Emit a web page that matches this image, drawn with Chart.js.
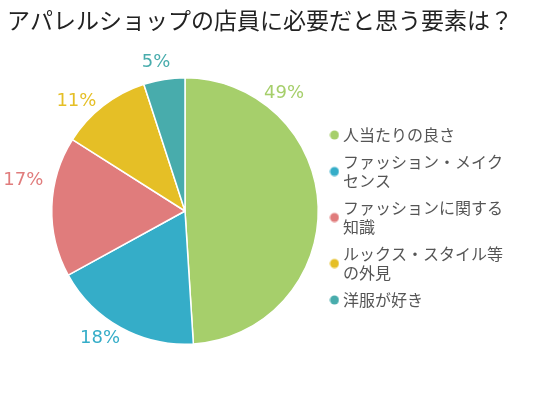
<!DOCTYPE html>
<html>
<head>
<meta charset="utf-8">
<script src="https://cdn.jsdelivr.net/npm/chart.js@4.4.0/dist/chart.umd.min.js"></script>
<style>
html, body { margin: 0; padding: 0; background: #fff; }
.chart-box { width: 540px; height: 400px; position: relative; }
</style>
</head>
<body>
<div class="chart-box"><canvas id="myChart"></canvas></div>
<script>
const titleText = 'アパレルショップの店員に必要だと思う要素は？';
const categories = [
    ['人当たりの良さ'],
    ['ファッション・メイク', 'センス'],
    ['ファッションに関する', '知識'],
    ['ルックス・スタイル等', 'の外見'],
    ['洋服が好き']
];
const values = [49, 18, 17, 11, 5];
const sliceColors = ['#a6cf6b', '#35adc8', '#e07c7c', '#e5bf26', '#48acac'];

const jpFont = '"Noto Sans CJK JP", "Noto Sans", sans-serif';
const legendLineHeight = 19;

// title is drawn by hand so it can sit at the far left while the pie is padded in
const titleDraw = {
    id: 'titleDraw',
    afterDraw(chart) {
        const ctx = chart.ctx;
        ctx.save();
        ctx.font = '23px ' + jpFont;
        ctx.fillStyle = '#222';
        ctx.textAlign = 'left';
        ctx.textBaseline = 'middle';
        ctx.fillText(titleText, 7, 20);
        ctx.restore();
    }
};

// percent labels outside each slice, same colour as the slice
// the original chart pushes some labels off the slice middle, so nudge them a bit (degrees)
const angleNudge = [-48, 5, 9, -7, -2];
const pctLabels = {
    id: 'pctLabels',
    afterDatasetsDraw(chart) {
        const ctx = chart.ctx;
        const meta = chart.getDatasetMeta(0);
        ctx.save();
        ctx.font = '18px "DejaVu Sans", ' + jpFont;
        ctx.textAlign = 'center';
        ctx.textBaseline = 'middle';
        meta.data.forEach((arc, i) => {
            const p = arc.getProps(['x', 'y', 'startAngle', 'endAngle', 'outerRadius'], true);
            const a = (p.startAngle + p.endAngle) / 2 + angleNudge[i] * Math.PI / 180;
            const txt = values[i] + '%';
            const halfW = ctx.measureText(txt).width / 2;
            const halfH = 7;
            const cos = Math.cos(a), sin = Math.sin(a);
            // keep a fixed gap between the pie edge and the label box
            const edge = Math.min(halfW / Math.max(Math.abs(cos), 0.01), halfH / Math.max(Math.abs(sin), 0.01));
            const r = p.outerRadius + 11 + edge;
            ctx.fillStyle = sliceColors[i];
            ctx.fillText(txt, p.x + cos * r, p.y + sin * r);
        });
        ctx.restore();
    }
};

// legend dot as a small canvas, moved down so it sits in the middle of a 2-line label
function makeDot(color, lines) {
    const shift = (lines - 1) * legendLineHeight / 2;
    const c = document.createElement('canvas');
    c.width = 10;
    c.height = 10 + shift * 2;
    const g = c.getContext('2d');
    g.fillStyle = color;
    g.beginPath();
    g.arc(5, c.height / 2 + shift, 4.5, 0, Math.PI * 2);
    g.fill();
    return c;
}

const ctx = document.getElementById('myChart');
const config = {
    type: 'pie',
    data: {
        labels: categories,
        datasets: [{
            data: values,
            backgroundColor: sliceColors,
            borderColor: '#fff',
            borderWidth: 1.5
        }]
    },
    options: {
        responsive: true,
        maintainAspectRatio: false,
        animation: false,
        layout: {
            padding: { left: 44, right: 27, top: 77, bottom: 55 }
        },
        plugins: {
            title: { display: false },
            tooltip: { enabled: false },
            legend: {
                position: 'right',
                align: 'center',
                // empty title only pushes the items down a little
                title: { display: true, text: ' ', font: { size: 10, lineHeight: 1.6 }, padding: 0 },
                labels: {
                    usePointStyle: true,
                    boxWidth: 1,
                    boxHeight: 6.5,
                    padding: 8,
                    color: '#555',
                    font: { family: jpFont, size: 16, lineHeight: legendLineHeight / 16 },
                    generateLabels(chart) {
                        const items = Chart.overrides.pie.plugins.legend.labels.generateLabels(chart);
                        items.forEach((item, i) => {
                            item.pointStyle = makeDot(sliceColors[i], categories[i].length);
                        });
                        return items;
                    }
                }
            }
        }
    },
    plugins: [titleDraw, pctLabels]
};

new Chart(ctx, config);
</script>
</body>
</html>
